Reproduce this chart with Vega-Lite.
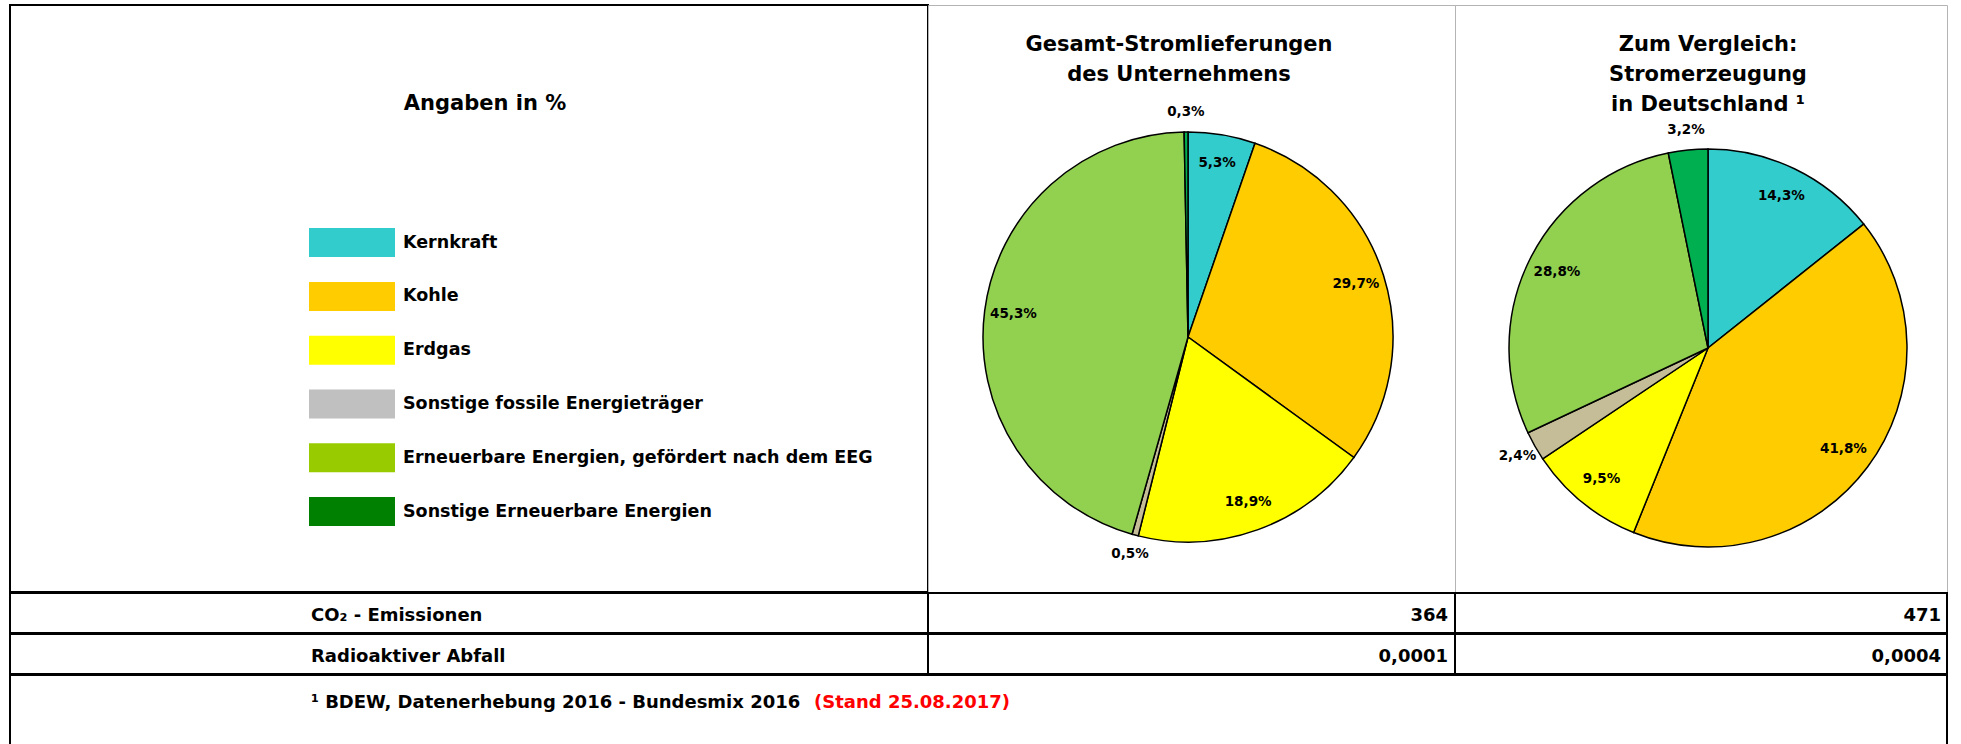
{
  "$schema": "https://vega.github.io/schema/vega-lite/v6.json",
  "padding": {"left": 9, "top": 4, "right": 4, "bottom": 0},
  "background": "white",
  "config": {
    "locale": {"number": {"decimal": ",", "thousands": ".", "grouping": [3], "currency": ["", "%"]}},
    "font": "DejaVu Sans",
    "text": {"font": "DejaVu Sans", "fontWeight": "bold", "color": "black"},
    "concat": {"spacing": 0},
    "view": {"stroke": null}
  },
  "datasets": {
    "anteile": [
      {"diagramm": "Unternehmen", "nr": 1, "energietraeger": "Kernkraft", "anteil": 5.3},
      {"diagramm": "Unternehmen", "nr": 2, "energietraeger": "Kohle", "anteil": 29.7},
      {"diagramm": "Unternehmen", "nr": 3, "energietraeger": "Erdgas", "anteil": 18.9},
      {"diagramm": "Unternehmen", "nr": 4, "energietraeger": "Sonstige fossile Energieträger", "anteil": 0.5},
      {"diagramm": "Unternehmen", "nr": 5, "energietraeger": "Erneuerbare Energien, gefördert nach dem EEG", "anteil": 45.3},
      {"diagramm": "Unternehmen", "nr": 6, "energietraeger": "Sonstige Erneuerbare Energien", "anteil": 0.3},
      {"diagramm": "Deutschland", "nr": 1, "energietraeger": "Kernkraft", "anteil": 14.3},
      {"diagramm": "Deutschland", "nr": 2, "energietraeger": "Kohle", "anteil": 41.8},
      {"diagramm": "Deutschland", "nr": 3, "energietraeger": "Erdgas", "anteil": 9.5},
      {"diagramm": "Deutschland", "nr": 4, "energietraeger": "Sonstige fossile Energieträger", "anteil": 2.4},
      {"diagramm": "Deutschland", "nr": 5, "energietraeger": "Erneuerbare Energien, gefördert nach dem EEG", "anteil": 28.8},
      {"diagramm": "Deutschland", "nr": 6, "energietraeger": "Sonstige Erneuerbare Energien", "anteil": 3.2}
    ],
    "kennzahlen": [
      {"zeile": 1, "kennzahl": "CO₂ - Emissionen", "unternehmen": 364, "deutschland": 471},
      {"zeile": 2, "kennzahl": "Radioaktiver Abfall", "unternehmen": 0.0001, "deutschland": 0.0004}
    ],
    "texte": [
      {"titel": "Angaben in %", "fussnote": "¹ BDEW, Datenerhebung 2016 - Bundesmix 2016", "stand": "(Stand 25.08.2017)"}
    ]
  },
  "spacing": -2,
  "resolve": {"scale": {"color": "independent"}},
  "vconcat": [
    {
      "spacing": 0,
      "bounds": "flush",
      "resolve": {"scale": {"color": "independent"}},
      "hconcat": [
        {
          "width": 918,
          "height": 587,
          "view": {"stroke": "black", "strokeWidth": 2},
          "layer": [
            {
              "data": {"name": "texte"},
              "mark": {"type": "text", "fontSize": 21, "align": "center", "baseline": "alphabetic"},
              "encoding": {"x": {"value": 475}, "y": {"value": 105}, "text": {"field": "titel"}}
            },
            {
              "data": {"name": "anteile"},
              "transform": [{"filter": "datum.diagramm === 'Unternehmen'"}],
              "encoding": {
                "y": {
                  "field": "energietraeger",
                  "type": "nominal",
                  "sort": {"field": "nr"},
                  "scale": {"type": "point", "domain": ["Kernkraft", "Kohle", "Erdgas", "Sonstige fossile Energieträger", "Erneuerbare Energien, gefördert nach dem EEG", "Sonstige Erneuerbare Energien"], "range": [237.6, 506.5], "padding": 0},
                  "axis": null
                }
              },
              "layer": [
                {
                  "mark": {"type": "rect", "height": 29},
                  "encoding": {
                    "x": {"value": 299},
                    "x2": {"value": 385},
                    "color": {
                      "field": "energietraeger",
                      "type": "nominal",
                      "scale": {"domain": ["Kernkraft", "Kohle", "Erdgas", "Sonstige fossile Energieträger", "Erneuerbare Energien, gefördert nach dem EEG", "Sonstige Erneuerbare Energien"], "range": ["#33CCCC", "#FFCC00", "#FFFF00", "#C0C0C0", "#99CC00", "#008000"]},
                      "legend": null
                    }
                  }
                },
                {
                  "mark": {"type": "text", "align": "left", "baseline": "middle", "fontSize": 17.5},
                  "encoding": {"x": {"value": 393}, "text": {"field": "energietraeger"}}
                }
              ]
            }
          ]
        },
        {
          "width": 527,
          "height": 587,
          "view": {"stroke": "#b4b4b4", "strokeWidth": 1},
          "layer": [
            {
              "data": {"values": [{"zeilen": ["Gesamt-Stromlieferungen", "des Unternehmens"]}]},
              "mark": {"type": "text", "fontSize": 21, "align": "center", "baseline": "alphabetic", "lineHeight": 30},
              "encoding": {"x": {"value": 251}, "y": {"value": 46}, "text": {"field": "zeilen"}}
            },
            {
              "data": {"name": "anteile"},
              "transform": [{"filter": "datum.diagramm === 'Unternehmen'"}],
              "encoding": {
                "theta": {"field": "anteil", "type": "quantitative", "stack": true},
                "order": {"field": "nr", "type": "quantitative"}
              },
              "layer": [
                {
                  "mark": {"type": "arc", "outerRadius": 205, "stroke": "black", "strokeWidth": 1.5, "xOffset": -3.5, "yOffset": 38.5},
                  "encoding": {
                    "color": {
                      "field": "energietraeger",
                      "type": "nominal",
                      "scale": {"domain": ["Kernkraft", "Kohle", "Erdgas", "Sonstige fossile Energieträger", "Erneuerbare Energien, gefördert nach dem EEG", "Sonstige Erneuerbare Energien"], "range": ["#33CCCC", "#FFCC00", "#FFFF00", "#C4BD97", "#92D050", "#00B050"]},
                      "legend": null
                    }
                  }
                },
                {
                  "mark": {"type": "text", "radius": 176, "fontSize": 13.5, "align": "center", "baseline": "middle", "xOffset": -3.5, "yOffset": 38.5},
                  "encoding": {
                    "detail": {"field": "nr"},
                    "text": {"condition": {"test": "datum.anteil >= 4", "field": "anteil", "type": "quantitative", "format": "$.1f"}, "value": ""}
                  }
                },
                {
                  "mark": {"type": "text", "radius": 225, "fontSize": 13.5, "align": "center", "baseline": "middle", "xOffset": -3.5, "yOffset": 38.5},
                  "encoding": {
                    "detail": {"field": "nr"},
                    "text": {"condition": {"test": "datum.anteil < 4", "field": "anteil", "type": "quantitative", "format": "$.1f"}, "value": ""}
                  }
                }
              ]
            }
          ]
        },
        {
          "width": 492,
          "height": 587,
          "view": {"stroke": "#b4b4b4", "strokeWidth": 1},
          "layer": [
            {
              "data": {"values": [{"zeilen": ["Zum Vergleich:", "Stromerzeugung", "in Deutschland ¹"]}]},
              "mark": {"type": "text", "fontSize": 21, "align": "center", "baseline": "alphabetic", "lineHeight": 30},
              "encoding": {"x": {"value": 253}, "y": {"value": 46}, "text": {"field": "zeilen"}}
            },
            {
              "data": {"name": "anteile"},
              "transform": [{"filter": "datum.diagramm === 'Deutschland'"}],
              "encoding": {
                "theta": {"field": "anteil", "type": "quantitative", "stack": true},
                "order": {"field": "nr", "type": "quantitative"}
              },
              "layer": [
                {
                  "mark": {"type": "arc", "outerRadius": 199, "stroke": "black", "strokeWidth": 1.5, "xOffset": 7, "yOffset": 49.5},
                  "encoding": {
                    "color": {
                      "field": "energietraeger",
                      "type": "nominal",
                      "scale": {"domain": ["Kernkraft", "Kohle", "Erdgas", "Sonstige fossile Energieträger", "Erneuerbare Energien, gefördert nach dem EEG", "Sonstige Erneuerbare Energien"], "range": ["#33CCCC", "#FFCC00", "#FFFF00", "#C4BD97", "#92D050", "#00B050"]},
                      "legend": null
                    }
                  }
                },
                {
                  "mark": {"type": "text", "radius": 169, "fontSize": 13.5, "align": "center", "baseline": "middle", "xOffset": 7, "yOffset": 49.5},
                  "encoding": {
                    "detail": {"field": "nr"},
                    "text": {"condition": {"test": "datum.anteil >= 4", "field": "anteil", "type": "quantitative", "format": "$.1f"}, "value": ""}
                  }
                },
                {
                  "mark": {"type": "text", "radius": 219, "fontSize": 13.5, "align": "center", "baseline": "middle", "xOffset": 7, "yOffset": 49.5},
                  "encoding": {
                    "detail": {"field": "nr"},
                    "text": {"condition": {"test": "datum.anteil < 4", "field": "anteil", "type": "quantitative", "format": "$.1f"}, "value": ""}
                  }
                }
              ]
            }
          ]
        }
      ]
    },
    {
      "spacing": 0,
      "bounds": "flush",
      "hconcat": [
        {
          "width": 918, "height": 40,
          "view": {"stroke": "black", "strokeWidth": 2},
          "data": {"name": "kennzahlen"},
          "transform": [{"filter": "datum.zeile === 1"}],
          "mark": {"type": "text", "align": "left", "baseline": "middle", "fontSize": 18},
          "encoding": {"x": {"value": 301}, "y": {"value": 23}, "text": {"field": "kennzahl"}}
        },
        {
          "width": 527, "height": 40,
          "view": {"stroke": "black", "strokeWidth": 2},
          "data": {"name": "kennzahlen"},
          "transform": [{"filter": "datum.zeile === 1"}],
          "mark": {"type": "text", "align": "right", "baseline": "middle", "fontSize": 18},
          "encoding": {"x": {"value": 520}, "y": {"value": 23}, "text": {"field": "unternehmen", "type": "quantitative", "format": "d"}}
        },
        {
          "width": 492, "height": 40,
          "view": {"stroke": "black", "strokeWidth": 2},
          "data": {"name": "kennzahlen"},
          "transform": [{"filter": "datum.zeile === 1"}],
          "mark": {"type": "text", "align": "right", "baseline": "middle", "fontSize": 18},
          "encoding": {"x": {"value": 486}, "y": {"value": 23}, "text": {"field": "deutschland", "type": "quantitative", "format": "d"}}
        }
      ]
    },
    {
      "spacing": 0,
      "bounds": "flush",
      "hconcat": [
        {
          "width": 918, "height": 40,
          "view": {"stroke": "black", "strokeWidth": 2},
          "data": {"name": "kennzahlen"},
          "transform": [{"filter": "datum.zeile === 2"}],
          "mark": {"type": "text", "align": "left", "baseline": "middle", "fontSize": 18},
          "encoding": {"x": {"value": 301}, "y": {"value": 23}, "text": {"field": "kennzahl"}}
        },
        {
          "width": 527, "height": 40,
          "view": {"stroke": "black", "strokeWidth": 2},
          "data": {"name": "kennzahlen"},
          "transform": [{"filter": "datum.zeile === 2"}],
          "mark": {"type": "text", "align": "right", "baseline": "middle", "fontSize": 18},
          "encoding": {"x": {"value": 520}, "y": {"value": 23}, "text": {"field": "unternehmen", "type": "quantitative", "format": ".4f"}}
        },
        {
          "width": 492, "height": 40,
          "view": {"stroke": "black", "strokeWidth": 2},
          "data": {"name": "kennzahlen"},
          "transform": [{"filter": "datum.zeile === 2"}],
          "mark": {"type": "text", "align": "right", "baseline": "middle", "fontSize": 18},
          "encoding": {"x": {"value": 486}, "y": {"value": 23}, "text": {"field": "deutschland", "type": "quantitative", "format": ".4f"}}
        }
      ]
    },
    {
      "width": 1937, "height": 100,
      "view": {"stroke": "black", "strokeWidth": 2},
      "data": {"name": "texte"},
      "layer": [
        {
          "mark": {"type": "text", "align": "left", "baseline": "middle", "fontSize": 18},
          "encoding": {"x": {"value": 301}, "y": {"value": 28}, "text": {"field": "fussnote"}}
        },
        {
          "mark": {"type": "text", "align": "left", "baseline": "middle", "fontSize": 18},
          "encoding": {"x": {"value": 804}, "y": {"value": 28}, "text": {"field": "stand"}, "color": {"value": "#ff0000"}}
        }
      ]
    }
  ]
}
